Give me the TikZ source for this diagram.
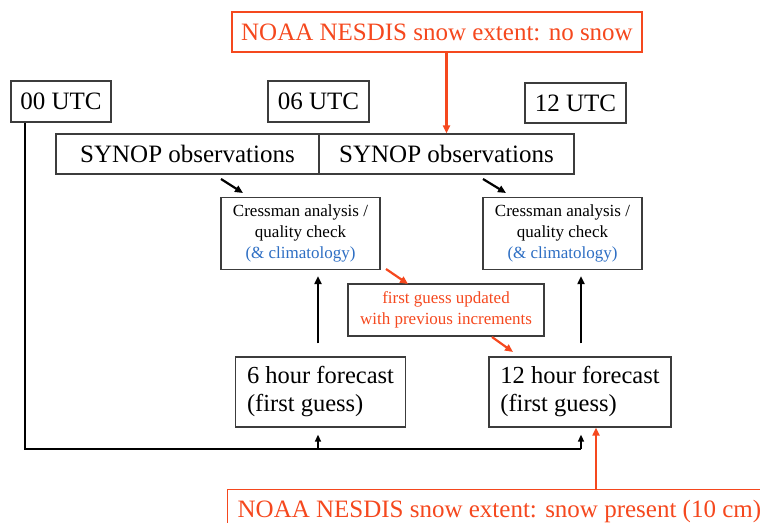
\documentclass[tikz,border=0pt]{standalone}
\usepackage{fontspec}
\setmainfont{Liberation Serif}
\usetikzlibrary{arrows.meta,calc}
\definecolor{nred}{RGB}{245,72,30}
\definecolor{nblue}{RGB}{45,110,195}
\definecolor{bgray}{RGB}{60,60,60}
\tikzset{
  bigbox/.style={draw=bgray, line width=1.3pt, inner sep=0pt, font=\fontsize{25}{30}\selectfont},
  smallbox/.style={draw=bgray, line width=1.3pt, inner sep=0pt, align=center, font=\fontsize{17}{21}\selectfont},
  redbox/.style={draw=nred, line width=1.3pt, inner sep=0pt, text=nred, font=\fontsize{25}{30}\selectfont},
  fcbox/.style={draw=bgray, line width=1.3pt, inner sep=0pt, align=left, font=\fontsize{24.5}{28}\selectfont},
  blk/.style={line width=2.2pt, -{Triangle[length=8pt,width=7pt]}},
  blksmall/.style={line width=1.5pt, -{Triangle[length=7pt,width=6pt]}},
  redarr/.style={draw=nred, line width=2.2pt, -{Triangle[length=8pt,width=7pt]}, nred},
}
\begin{document}
\begin{tikzpicture}[x=1pt,y=-1pt]
\useasboundingbox (0,0) rectangle (760,522);
\clip (0,0) rectangle (760,522);
% top NOAA
\node[redbox, minimum width=410pt, minimum height=40pt] (noaa1) at (437,32) {NOAA NESDIS snow extent: no snow};
% UTC boxes
\node[bigbox, minimum width=100pt, minimum height=41pt] (t00) at (61,101.5) {00 UTC};
\node[bigbox, minimum width=101pt, minimum height=41pt] (t06) at (318.5,101.5) {06 UTC};
\node[bigbox, minimum width=101pt, minimum height=40pt] (t12) at (575.5,103) {12 UTC};
% SYNOP
\node[bigbox, minimum width=263pt, minimum height=40pt] (syn1) at (187.5,154) {SYNOP observations};
\node[bigbox, minimum width=255pt, minimum height=40pt] (syn2) at (446.5,154) {SYNOP observations};
% Cressman
\node[smallbox, minimum width=159pt, minimum height=72pt] (cr1) at (300.5,233.5) {Cressman analysis /\\quality check\\\textcolor{nblue}{(\& climatology)}};
\node[smallbox, minimum width=159pt, minimum height=72pt] (cr2) at (562.5,233.5) {Cressman analysis /\\quality check\\\textcolor{nblue}{(\& climatology)}};
% first guess
\node[smallbox, text=nred, minimum width=196pt, minimum height=52pt] (fg) at (446,310) {first guess updated\\with previous increments};
% forecasts
\node[fcbox, minimum width=170pt, minimum height=70pt] (f6) at (320.5,392) {6 hour forecast\\(first guess)};
\node[fcbox, minimum width=182pt, minimum height=70pt] (f12) at (580,392) {12 hour forecast\\(first guess)};
% bottom NOAA
\node[redbox, anchor=north west, inner xsep=10pt, minimum height=50pt, text depth=16pt, text height=21pt] (noaa2) at (227,489) {NOAA NESDIS snow extent: snow present (10 cm)};
% coordinates
\coordinate (c0) at (25,449);
\coordinate (c6) at (318,449);
\coordinate (c12) at (581,449);
\coordinate (d1s) at (221,179);
\coordinate (d1e) at (243,193);
\coordinate (d2s) at (483,179);
\coordinate (d2e) at (506,193);
\coordinate (r1s) at (386,269);
\coordinate (r1e) at (408,284);
\coordinate (r2s) at (492,337);
\coordinate (r2e) at (513,352);
\coordinate (b12) at (596,489);
% connectors
\draw[redarr] (syn2.north |- noaa1.south) -- (syn2.north);
\draw[line width=1.5pt] (t00.south -| c0) |- (c12);
\draw[blksmall, shorten >=7pt] (c6) -- (c6 |- f6.south);
\draw[blksmall, shorten >=7pt] (c12) -- (c12 |- f12.south);
\draw[blk, shorten <=13pt, shorten >=6pt] (f6.north -| c6) -- (cr1.south -| c6);
\draw[blk, shorten <=13pt, shorten >=6pt] (f12.north -| c12) -- (cr2.south -| c12);
\draw[blk] (d1s) -- (d1e);
\draw[blk] (d2s) -- (d2e);
\draw[redarr] (r1s) -- (r1e);
\draw[redarr] (r2s) -- (r2e);
\draw[redarr] (noaa2.north -| b12) -- (f12.south -| b12);
\end{tikzpicture}
\end{document}
